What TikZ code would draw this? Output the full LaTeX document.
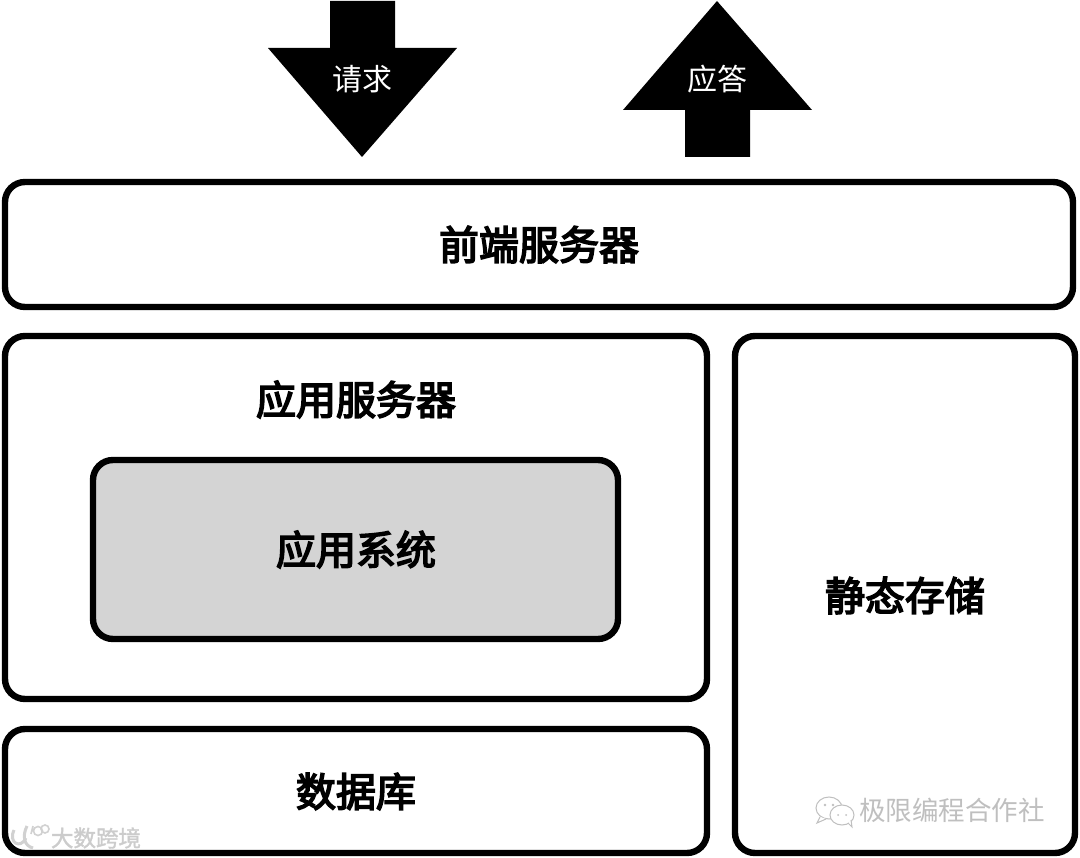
\documentclass[tikz,border=0pt]{standalone}
\usepackage{fontspec}
\setmainfont{Noto Sans CJK SC}
\newfontfamily\titlefont[FakeBold=4]{Noto Sans CJK SC}
\newfontfamily\markfont[FakeBold=1.5]{Noto Sans CJK SC}
\tikzset{
  panel/.style={draw=black,line width=6.4pt,rounded corners=20pt,fill=white},
  panelgray/.style={panel,fill=black!17},
  title/.style={font=\fontsize{40}{40}\selectfont\titlefont,text=black,inner sep=0pt},
  arrowlabel/.style={font=\fontsize{30}{30}\selectfont,text=white,inner sep=0pt},
  wmark/.style={font=\fontsize{26.5}{27}\selectfont,text=black!25,inner sep=0pt},
  wmarkb/.style={font=\fontsize{22.5}{22}\selectfont\markfont,text=black!20,inner sep=0pt},
  bubble/.style={draw=black!25,line width=1pt,fill=white},
  logo/.style={draw=black!18,line width=3pt}
}
\begin{document}
\begin{tikzpicture}[x=1pt,y=-1pt]
\useasboundingbox (0,0) rectangle (1080,858);
% arrows
\fill[black] (330,1) -- (395,1) -- (395,48) -- (457,48) -- (362,157) -- (268,48) -- (330,48) -- cycle;
\fill[black] (717,1) -- (812,110) -- (750,110) -- (750,157) -- (685,157) -- (685,110) -- (623,110) -- cycle;
\node[arrowlabel] (req) at (362,79) {请求};
\node[arrowlabel] (res) at (717,79) {应答};
% panels
\draw[panel] (5,182) rectangle (1073,307);
\node[title] (front) at (539,244.5) {前端服务器};
\draw[panel] (5,336) rectangle (707,699);
\node[title] (appsrv) at (356,399.5) {应用服务器};
\draw[panelgray] (93,460) rectangle (618,639);
\node[title] (appsys) at (356,549.5) {应用系统};
\draw[panel] (735,336) rectangle (1075,853);
\node[title] (static) at (905,595.5) {静态存储};
\draw[panel] (5,729) rectangle (707,853);
\node[title] (db) at (356,791.5) {数据库};
% watermarks
\draw[bubble] (829,808) ellipse (13pt and 11pt);
\draw[bubble] (820,817) -- (817,823) -- (826,819);
\draw[bubble] (842,815) ellipse (12pt and 10pt);
\draw[bubble] (848,823) -- (852,827) -- (851,820);
\fill[black!25] (825,805) circle (1.3pt) (833,805) circle (1.3pt) (838,815) circle (1pt) (846,815) circle (1pt);
\node[wmark] (wm) at (952,810) {极限编程合作社};
\draw[logo] (14,830) .. controls (8,842) and (20,850) .. (26,838);
\draw[logo] (27,826) .. controls (22,836) and (24,846) .. (33,848);
\draw[logo,line width=1.6pt] (31,834) -- (33,826) (38,831) circle (4.5pt) (45,829) circle (4pt);
\node[wmarkb] (wm2) at (96,838) {大数跨境};
\end{tikzpicture}
\end{document}
